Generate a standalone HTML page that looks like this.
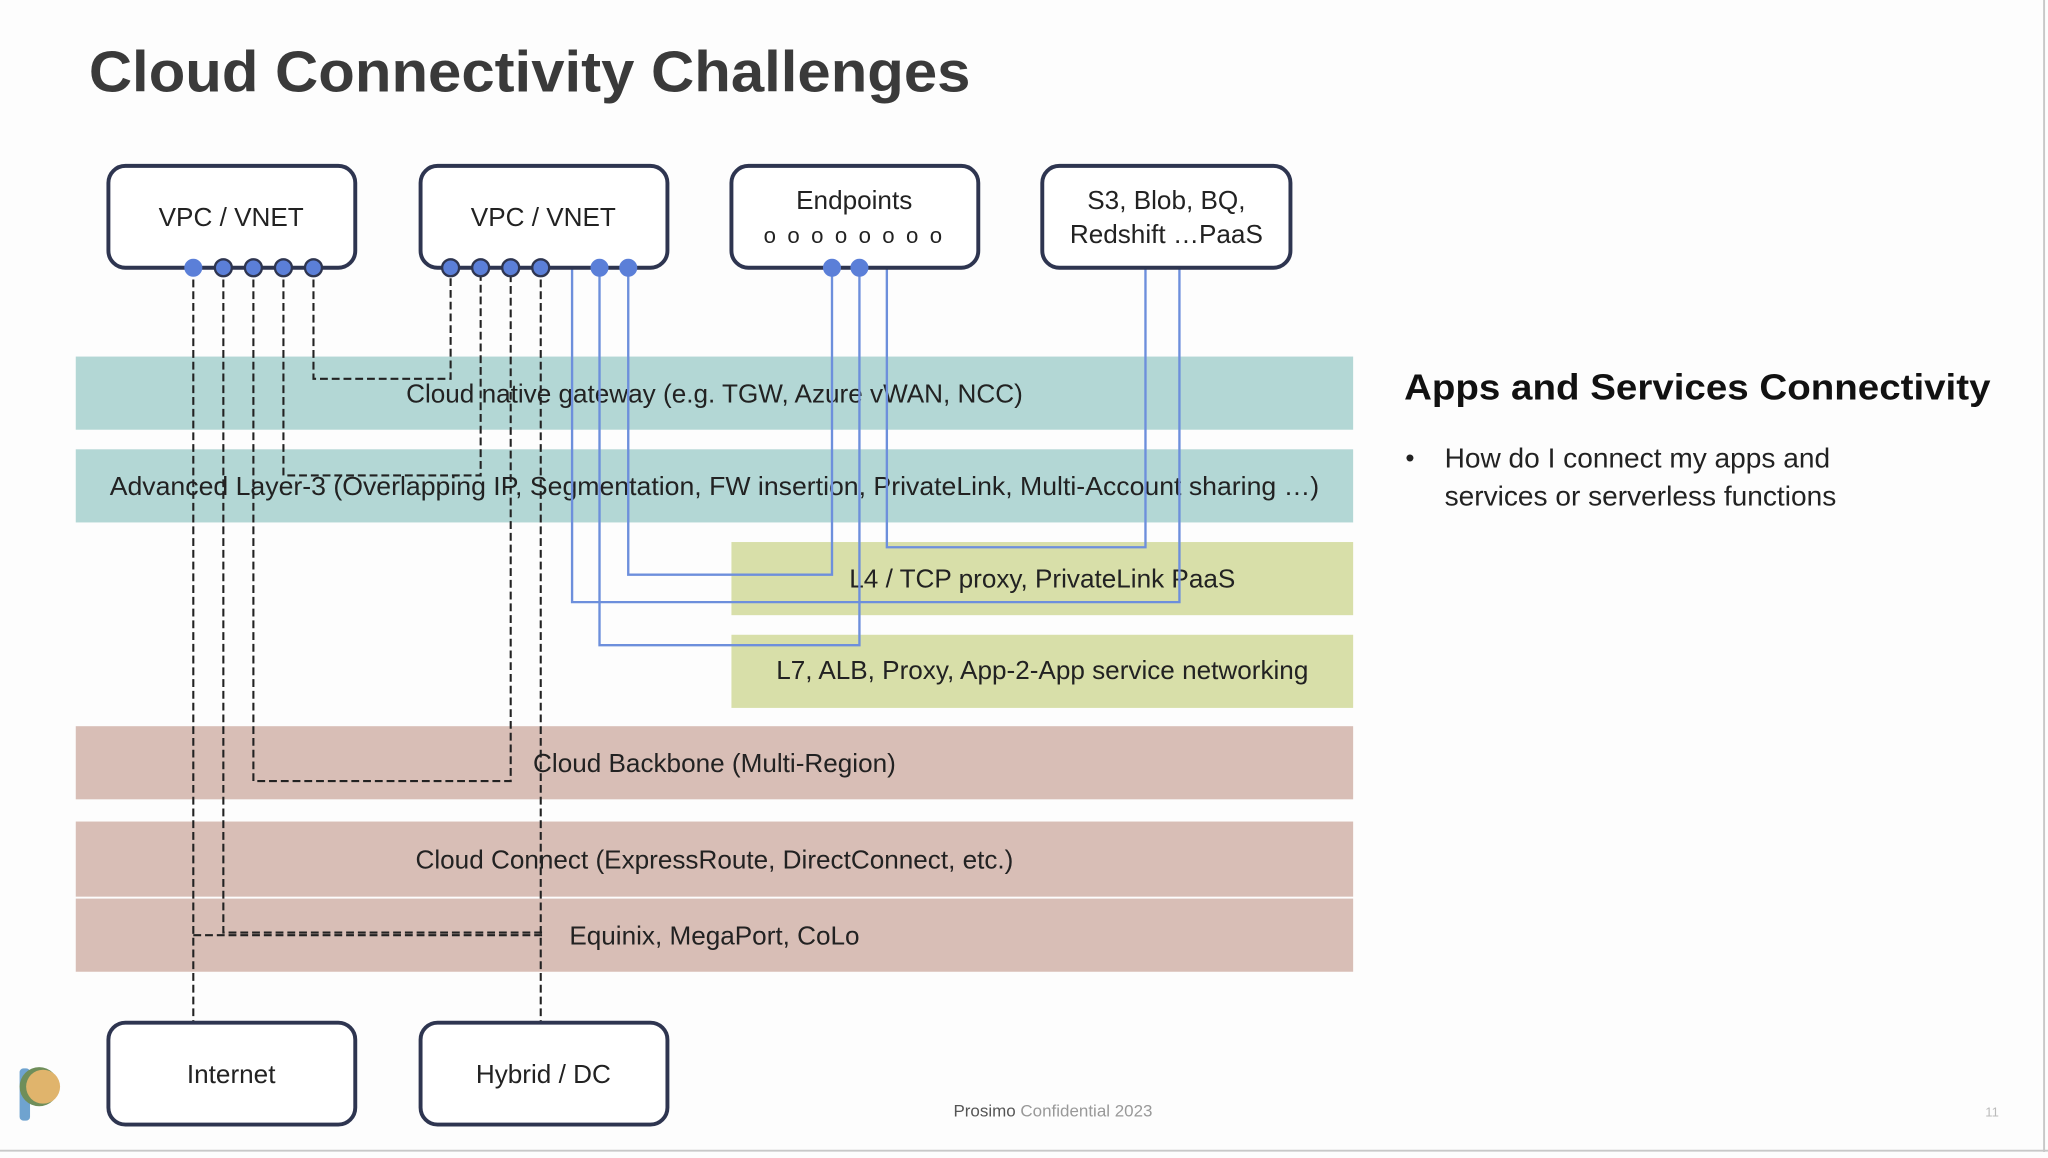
<!DOCTYPE html>
<html><head><meta charset="utf-8"><style>
html,body{margin:0;padding:0;background:#fdfdfd;}
svg{display:block;}
text{font-family:"Liberation Sans",Arial,sans-serif;}
</style></head><body>
<svg width="2048" height="1158" viewBox="0 0 1568 886.6" preserveAspectRatio="none" xmlns="http://www.w3.org/2000/svg">
<rect x="0" y="0" width="1568" height="886.6" fill="#fdfdfd"/>
<line x1="1565" y1="0" x2="1565" y2="882" stroke="#c8c8c8" stroke-width="1.5"/>
<line x1="0" y1="881" x2="1568" y2="881" stroke="#c8c8c8" stroke-width="1.5"/>

<text x="68" y="70" font-size="44" font-weight="bold" fill="#3a3a3a" textLength="675" lengthAdjust="spacingAndGlyphs">Cloud Connectivity Challenges</text>

<!-- bands -->
<rect x="58" y="273" width="978" height="56" fill="#b3d7d5"/>
<rect x="58" y="344" width="978" height="56" fill="#b3d7d5"/>
<rect x="560" y="415" width="476" height="56" fill="#d8dfa9"/>
<rect x="560" y="486" width="476" height="56" fill="#d8dfa9"/>
<rect x="58" y="556" width="978" height="56" fill="#d8beb6"/>
<rect x="58" y="629" width="978" height="57.5" fill="#d8beb6"/>
<rect x="58" y="688" width="978" height="56" fill="#d8beb6"/>

<g font-size="20" fill="#222" text-anchor="middle">
<text x="547" y="308">Cloud native gateway (e.g. TGW, Azure vWAN, NCC)</text>
<text x="547" y="379" textLength="926" lengthAdjust="spacingAndGlyphs">Advanced Layer-3 (Overlapping IP, Segmentation, FW insertion, PrivateLink, Multi-Account sharing …)</text>
<text x="798" y="450">L4 / TCP proxy, PrivateLink PaaS</text>
<text x="798" y="520">L7, ALB, Proxy, App-2-App service networking</text>
<text x="547" y="591">Cloud Backbone (Multi-Region)</text>
<text x="547" y="665">Cloud Connect (ExpressRoute, DirectConnect, etc.)</text>
<text x="547" y="723">Equinix, MegaPort, CoLo</text>
</g>

<!-- dashed connectors -->
<g fill="none" stroke="#222" stroke-width="1.6" stroke-dasharray="6,3">
<path d="M148 205 V783"/>
<path d="M148 716 H416"/>
<path d="M171 205 V714 H416"/>
<path d="M194 205 V598 H391 V205"/>
<path d="M217 205 V364 H368 V205"/>
<path d="M240 205 V290 H345 V205"/>
<path d="M414 205 V783"/>
</g>

<!-- blue connectors -->
<g fill="none" stroke="#6d8fdc" stroke-width="1.8">
<path d="M438 205 V461 H903 V205"/>
<path d="M459 205 V494 H658 V205"/>
<path d="M481 205 V440 H637 V205"/>
<path d="M679 205 V419 H877 V205"/>
</g>

<!-- boxes -->
<g fill="#fff" stroke="#2e3550" stroke-width="3">
<rect x="83" y="127" width="189" height="78" rx="13"/>
<rect x="322" y="127" width="189" height="78" rx="13"/>
<rect x="560" y="127" width="189" height="78" rx="13"/>
<rect x="798" y="127" width="190" height="78" rx="13"/>
<rect x="83" y="783" width="189" height="78" rx="13"/>
<rect x="322" y="783" width="189" height="78" rx="13"/>
</g>
<g font-size="20" fill="#222" text-anchor="middle">
<text x="177" y="173">VPC / VNET</text>
<text x="416" y="173">VPC / VNET</text>
<text x="654" y="160">Endpoints</text>
<text x="654" y="186" letter-spacing="2" font-size="17">o o o o o o o o</text>
<text x="893" y="160">S3, Blob, BQ,</text>
<text x="893" y="186">Redshift …PaaS</text>
<text x="177" y="829">Internet</text>
<text x="416" y="829">Hybrid / DC</text>
</g>

<!-- dots -->
<g fill="#5b7fd8" stroke="#2e3550" stroke-width="1.8">
<circle cx="148" cy="205" r="6" stroke="#5b7fd8"/>
<circle cx="171" cy="205" r="6.5"/>
<circle cx="194" cy="205" r="6.5"/>
<circle cx="217" cy="205" r="6.5"/>
<circle cx="240" cy="205" r="6.5"/>
<circle cx="345" cy="205" r="6.5"/>
<circle cx="368" cy="205" r="6.5"/>
<circle cx="391" cy="205" r="6.5"/>
<circle cx="414" cy="205" r="6.5"/>
<circle cx="459" cy="205" r="6" stroke="#5b7fd8"/>
<circle cx="481" cy="205" r="6" stroke="#5b7fd8"/>
<circle cx="637" cy="205" r="6" stroke="#5b7fd8"/>
<circle cx="658" cy="205" r="6" stroke="#5b7fd8"/>
</g>

<!-- right panel -->
<text x="1075" y="306" font-size="28" font-weight="bold" fill="#111" textLength="449" lengthAdjust="spacingAndGlyphs">Apps and Services Connectivity</text>
<text x="1076" y="357" font-size="20" fill="#222">•</text>
<text x="1106" y="358" font-size="21.5" fill="#222">How do I connect my apps and</text>
<text x="1106" y="387" font-size="21.5" fill="#222">services or serverless functions</text>

<!-- footer -->
<text x="730" y="855" font-size="13" fill="#555">Prosimo <tspan fill="#999">Confidential 2023</tspan></text>
<text x="1520" y="855" font-size="10" fill="#bbb">11</text>

<!-- logo -->
<rect x="15" y="818" width="8" height="40" rx="3" fill="#6fa3cf"/>
<circle cx="30" cy="832" r="15" fill="#6f8e5a"/>
<circle cx="33" cy="832" r="13" fill="#e0b46c"/>
</svg>
</body></html>
